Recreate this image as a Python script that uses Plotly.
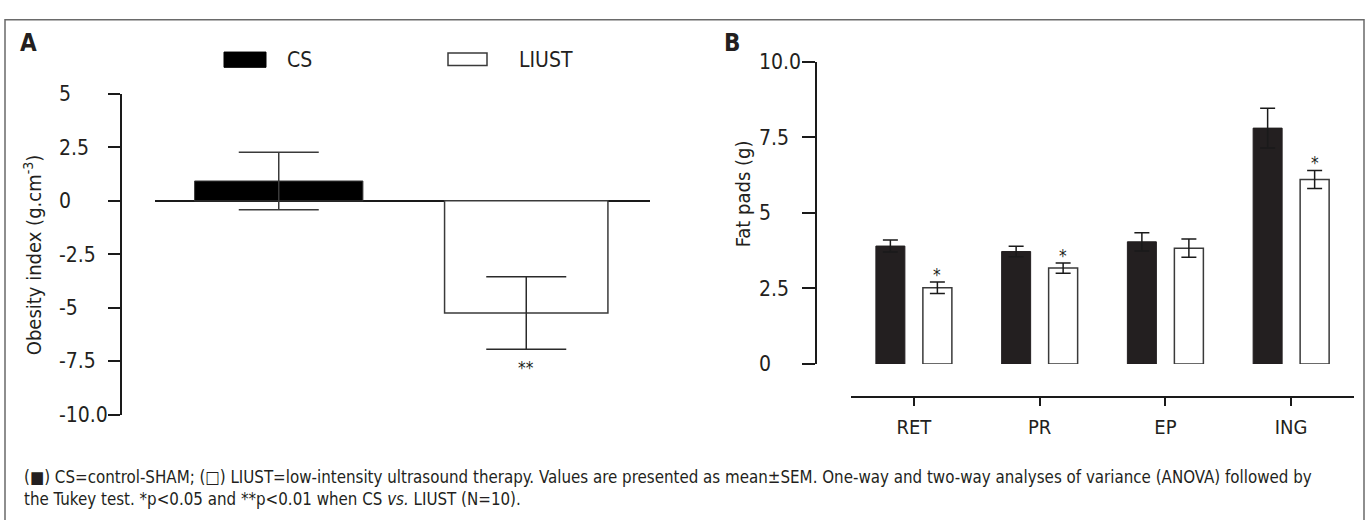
import plotly.graph_objects as go

# ---------------- data ----------------
groups_a = ["CS", "LIUST"]
obesity_mean = [0.93, -5.25]
obesity_sem = [1.35, 1.70]
obesity_sig = ["", "**"]

fat_categories = ["RET", "PR", "EP", "ING"]
fat_cs_mean = [3.90, 3.72, 4.04, 7.80]
fat_cs_sem = [0.20, 0.17, 0.30, 0.66]
fat_liust_mean = [2.52, 3.17, 3.83, 6.10]
fat_liust_sem = [0.19, 0.17, 0.30, 0.30]
fat_sig = ["*", "*", "", "*"]

ya_tickvals = [-10, -7.5, -5, -2.5, 0, 2.5, 5]
ya_ticktext = ["-10.0", "-7.5", "-5", "-2.5", "0", "2.5", "5"]
yb_tickvals = [0, 2.5, 5, 7.5, 10]
yb_ticktext = ["0", "2.5", "5", "7.5", "10.0"]

legend_labels = ["CS", "LIUST"]
panel_labels = ["A", "B"]
ya_title = "Obesity index (g.cm<sup>-3</sup>)"
yb_title = "Fat pads (g)"
caption = ("(\u25a0) CS=control-SHAM; (\u25a1) LIUST=low-intensity ultrasound therapy. Values are presented as "
           "mean\u00b1SEM. One-way and two-way analyses of variance (ANOVA) followed by<br>"
           "the Tukey test. *p<0.05 and **p<0.01 when CS <i>vs.</i> LIUST (N=10).")

# ---------------- style ----------------
W, H = 1370, 520
FONT = "Liberation Sans Narrow, DejaVu Sans Condensed, sans-serif"
TXT = "#231f20"
BLACK = "#231f20"
EDGE = "#3a3a3a"


def px(v):
    return v / W


def py(v):
    return 1 - v / H


fig = go.Figure()

# ---------------- panel A ----------------
fig.add_trace(go.Bar(
    x=[groups_a[0]], y=[obesity_mean[0]], width=0.68,
    marker=dict(color="#000000", line=dict(color=EDGE, width=1)),
    error_y=dict(type="data", array=[obesity_sem[0]], color="#3a3a3a", thickness=1.5, width=40),
    xaxis="x", yaxis="y", hoverinfo="skip"))
fig.add_trace(go.Bar(
    x=[groups_a[1]], y=[obesity_mean[1]], width=0.66,
    marker=dict(color="#ffffff", line=dict(color=EDGE, width=1.5)),
    error_y=dict(type="data", array=[obesity_sem[1]], color="#2a2a2a", thickness=1.5, width=40),
    xaxis="x", yaxis="y", hoverinfo="skip"))
# carrier for the left-aligned tick labels of panel A
fig.add_trace(go.Scatter(x=[None], y=[None], xaxis="x", yaxis="y3", hoverinfo="skip", showlegend=False))

# ---------------- panel B ----------------
cat_px = (1354 - 851) / 4.0
bar_w = 29 / cat_px
fig.add_trace(go.Bar(
    x=fat_categories, y=fat_cs_mean, width=bar_w, offset=-38 / cat_px,
    marker=dict(color=BLACK, line=dict(color=BLACK, width=1)),
    error_y=dict(type="data", array=fat_cs_sem, color="#1a1a1a", thickness=1.5, width=7.5),
    xaxis="x2", yaxis="y2", hoverinfo="skip"))
fig.add_trace(go.Bar(
    x=fat_categories, y=fat_liust_mean, width=bar_w, offset=9 / cat_px,
    marker=dict(color="#ffffff", line=dict(color=EDGE, width=1.5)),
    error_y=dict(type="data", array=fat_liust_sem, color="#1a1a1a", thickness=1.5, width=7.5),
    xaxis="x2", yaxis="y2", hoverinfo="skip"))
fig.add_trace(go.Scatter(x=[None], y=[None], xaxis="x2", yaxis="y4", hoverinfo="skip", showlegend=False))

axis_font = dict(family=FONT, size=21, color=TXT)

fig.update_layout(
    width=W, height=H,
    margin=dict(l=0, r=0, t=0, b=0),
    paper_bgcolor="white", plot_bgcolor="white",
    showlegend=False, barmode="overlay",
    font=dict(family=FONT, color=TXT),
    # panel A
    xaxis=dict(domain=[px(155), px(650)], anchor="y", visible=False,
               type="category", categoryorder="array", categoryarray=groups_a,
               range=[-0.5, 1.5], fixedrange=True),
    yaxis=dict(domain=[py(422), py(86)], range=[-10, 5], anchor="free", position=px(121),
               showline=True, linecolor="#1a1a1a", linewidth=1.5,
               ticks="outside", ticklen=12, tickwidth=1.5, tickcolor="#1a1a1a",
               tickvals=ya_tickvals, showticklabels=False,
               showgrid=False, zeroline=True, zerolinecolor="#1a1a1a", zerolinewidth=1.5,
               fixedrange=True),
    yaxis3=dict(overlaying="y", side="right", anchor="free", position=px(58),
                range=[-10, 5], tickvals=ya_tickvals, ticktext=ya_ticktext,
                showline=False, ticks="", showgrid=False, zeroline=False,
                tickfont=axis_font, fixedrange=True),
    # panel B
    xaxis2=dict(domain=[px(851), px(1354)], anchor="free", position=py(404),
                type="category", categoryorder="array", categoryarray=fat_categories,
                range=[-0.5, 3.5], showline=True, linecolor="#1a1a1a", linewidth=1.5,
                ticks="outside", ticklen=8, tickwidth=1.5, tickcolor="#1a1a1a",
                ticklabelstandoff=4,
                tickfont=dict(family=FONT, size=20, color=TXT), showgrid=False,
                fixedrange=True),
    yaxis2=dict(domain=[py(369), py(52)], range=[0, 10], anchor="free", position=px(816),
                showline=True, linecolor="#1a1a1a", linewidth=1.5,
                ticks="outside", ticklen=13, tickwidth=1.5, tickcolor="#1a1a1a",
                tickvals=yb_tickvals, showticklabels=False,
                showgrid=False, zeroline=False, fixedrange=True),
    yaxis4=dict(overlaying="y2", side="right", anchor="free", position=px(758),
                range=[0, 10], tickvals=yb_tickvals, ticktext=yb_ticktext,
                showline=False, ticks="", showgrid=False, zeroline=False,
                tickfont=axis_font, fixedrange=True),
)

shapes = [
    dict(type="rect", xref="paper", yref="paper", x0=px(5), x1=px(1364), y0=-0.05, y1=py(8),
         line=dict(color="#6a6a6a", width=1.5), fillcolor="rgba(0,0,0,0)", layer="below"),
    dict(type="rect", xref="paper", yref="paper", x0=px(224), x1=px(266), y0=py(58), y1=py(42),
         line=dict(color="#000000", width=1), fillcolor="#000000"),
    dict(type="rect", xref="paper", yref="paper", x0=px(448), x1=px(487), y0=py(56), y1=py(43),
         line=dict(color="#3a3a3a", width=1.5), fillcolor="#ffffff"),
]

annotations = [
    dict(text="<b>%s</b>" % panel_labels[0], x=px(18), y=py(33), xref="paper", yref="paper",
         xanchor="left", yanchor="middle", showarrow=False, font=dict(family=FONT, size=24, color=TXT)),
    dict(text="<b>%s</b>" % panel_labels[1], x=px(722), y=py(33), xref="paper", yref="paper",
         xanchor="left", yanchor="middle", showarrow=False, font=dict(family=FONT, size=24, color=TXT)),
    dict(text=legend_labels[0], x=px(285), y=py(50), xref="paper", yref="paper",
         xanchor="left", yanchor="middle", showarrow=False, font=dict(family=FONT, size=21, color=TXT)),
    dict(text=legend_labels[1], x=px(517), y=py(50), xref="paper", yref="paper",
         xanchor="left", yanchor="middle", showarrow=False, font=dict(family=FONT, size=21, color=TXT)),
    dict(text=ya_title, x=px(33), y=py(255), xref="paper", yref="paper", textangle=-90,
         xanchor="center", yanchor="middle", showarrow=False, font=dict(family=FONT, size=20, color=TXT)),
    dict(text=yb_title, x=px(743), y=py(191), xref="paper", yref="paper", textangle=-90,
         xanchor="center", yanchor="middle", showarrow=False, font=dict(family=FONT, size=20, color=TXT)),
    dict(text=caption, x=px(22), y=py(475), xref="paper", yref="paper", align="left",
         xanchor="left", yanchor="top", showarrow=False, font=dict(family=FONT, size=16.8, color=TXT)),
]

for g, m, s, sig in zip(groups_a, obesity_mean, obesity_sem, obesity_sig):
    if sig:
        annotations.append(dict(text=sig, x=g, y=m - s, xref="x", yref="y", yanchor="middle",
                                yshift=-19, showarrow=False, font=dict(family=FONT, size=17, color=TXT)))

for c, m, s, sig in zip(fat_categories, fat_liust_mean, fat_liust_sem, fat_sig):
    if sig:
        annotations.append(dict(text=sig, x=c, y=m + s, xref="x2", yref="y2", yanchor="middle",
                                xshift=23.5, yshift=7, showarrow=False,
                                font=dict(family=FONT, size=17, color=TXT)))

fig.update_layout(shapes=shapes, annotations=annotations)

fig.write_html("out.html", config={"displayModeBar": False},
               post_script="document.body.style.margin='0';")
